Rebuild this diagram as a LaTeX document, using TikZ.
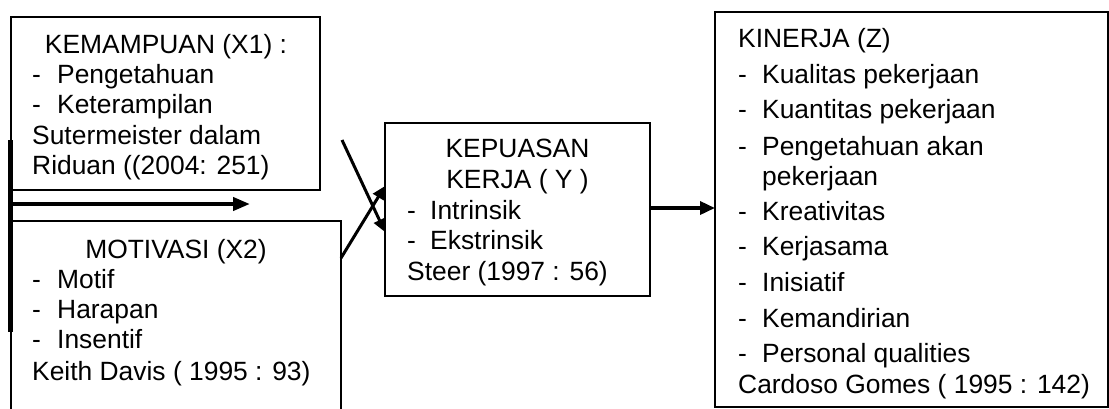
\documentclass[tikz,border=0pt]{standalone}
\usepackage{fontspec}
\setmainfont{Liberation Sans}
\usetikzlibrary{arrows.meta}
\begin{document}
\begin{tikzpicture}[x=1pt,y=-1pt,
  box/.style={draw, line width=1.3pt, anchor=north west, inner sep=0pt, outer sep=0pt},
  txt/.style={anchor=base west, inner sep=0pt, font=\fontsize{26.4}{30}\selectfont},
  ctxt/.style={anchor=base, inner sep=0pt, font=\fontsize{26.4}{30}\selectfont},
  bigarrow/.style={line width=4pt, -{Triangle[length=17pt,width=13pt]}},
  crossarrow/.style={line width=3pt, -{Triangle[length=13pt,width=12pt]}}]
\useasboundingbox (0,0) rectangle (1109,408);
\clip (0,0) rectangle (1109,408);
% boxes
\node[box, minimum width=309pt, minimum height=173pt] (x1) at (11,17) {};
\node[box, minimum width=330pt, minimum height=200pt] (x2) at (11,221) {};
\node[box, minimum width=265pt, minimum height=173pt] (y) at (385,123) {};
\node[box, minimum width=393pt, minimum height=395pt] (z) at (715,12) {};
% X1 text
\node[ctxt] (x1a) at (166,53) {KEMAMPUAN (X1) :};
\node[txt] (x1b) at (32,83) {-};
\node[txt] (x1c) at (57,83) {Pengetahuan};
\node[txt] (x1d) at (32,113) {-};
\node[txt] (x1e) at (57,113) {Keterampilan};
\node[txt] (x1f) at (32,144) {Sutermeister dalam};
\node[txt] (x1g) at (32,174) {Riduan ((2004: 251)};
% X2 text
\node[ctxt] (x2a) at (176,258) {MOTIVASI (X2)};
\node[txt] (x2b) at (32,288) {-};
\node[txt] (x2c) at (57,288) {Motif};
\node[txt] (x2d) at (32,318) {-};
\node[txt] (x2e) at (57,318) {Harapan};
\node[txt] (x2f) at (32,348) {-};
\node[txt] (x2g) at (57,348) {Insentif};
\node[txt] (x2h) at (32,380) {Keith Davis ( 1995 : 93)};
% Y text
\node[ctxt] (ya) at (517.5,157) {KEPUASAN};
\node[ctxt] (yb) at (517.5,188) {KERJA ( Y )};
\node[txt] (yc) at (407,219) {-};
\node[txt] (yd) at (430,219) {Intrinsik};
\node[txt] (ye) at (407,249) {-};
\node[txt] (yf) at (430,249) {Ekstrinsik};
\node[txt] (yg) at (407,280) {Steer (1997 : 56)};
% Z text
\node[txt] (za) at (738,47) {KINERJA (Z)};
\node[txt] (zb1) at (738,83) {-};
\node[txt] (zb2) at (762,83) {Kualitas pekerjaan};
\node[txt] (zc1) at (738,118) {-};
\node[txt] (zc2) at (762,118) {Kuantitas pekerjaan};
\node[txt] (zd1) at (738,155) {-};
\node[txt] (zd2) at (762,155) {Pengetahuan akan};
\node[txt] (zd3) at (762,185) {pekerjaan};
\node[txt] (ze1) at (738,220) {-};
\node[txt] (ze2) at (762,220) {Kreativitas};
\node[txt] (zf1) at (738,255) {-};
\node[txt] (zf2) at (762,255) {Kerjasama};
\node[txt] (zg1) at (738,291) {-};
\node[txt] (zg2) at (762,291) {Inisiatif};
\node[txt] (zh1) at (738,327) {-};
\node[txt] (zh2) at (762,327) {Kemandirian};
\node[txt] (zi1) at (738,362) {-};
\node[txt] (zi2) at (762,362) {Personal qualities};
\node[txt] (zj) at (738,393) {Cardoso Gomes ( 1995 : 142)};
% connectors
\coordinate (vtop) at (10,140);
\coordinate (vbot) at (10,332);
\coordinate (hstart) at (10,204);
\coordinate (hend) at (250,204);
\draw[line width=5pt] (vtop) -- (vbot);
\draw[bigarrow] (hstart) -- (hend);
\coordinate (c1s) at (342,140);
\coordinate (c1e) at (y.west |- 0,232);
\coordinate (c2s) at (x2.east |- 0,258);
\coordinate (c2e) at (y.west |- 0,186);
\draw[crossarrow] (c1s) -- (c1e);
\draw[crossarrow] (c2s) -- (c2e);
\draw[line width=3.5pt, -{Triangle[length=15pt,width=13pt]}] (y.east |- 0,208) -- (z.west |- 0,208);
\end{tikzpicture}
\end{document}
